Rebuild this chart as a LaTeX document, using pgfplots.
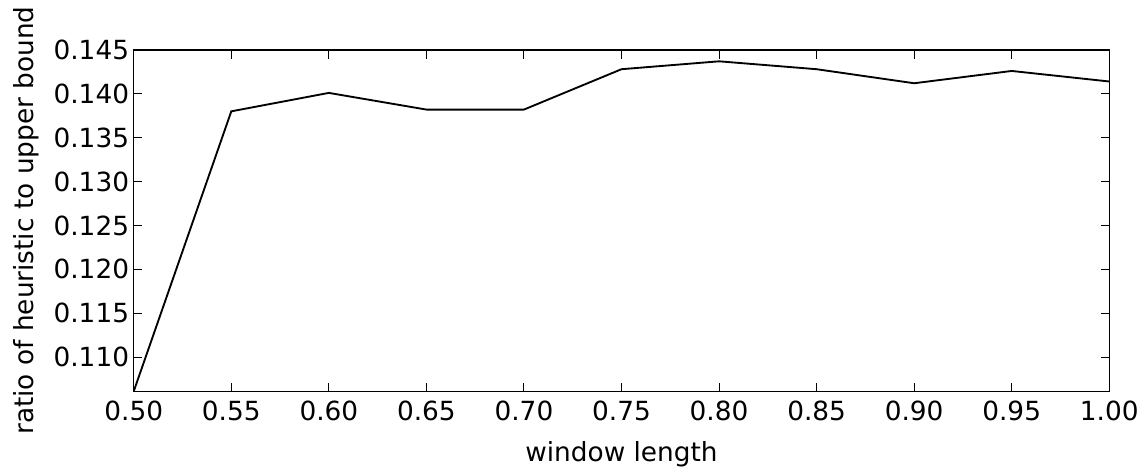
\documentclass[border=0pt]{standalone}
\usepackage{pgfplots}
\pgfplotsset{compat=1.18}
\usepackage{fontspec}
\setmainfont{DejaVu Sans}
\begin{document}
\begin{tikzpicture}
\begin{axis}[
    name=main,
    scale only axis,
    width=733pt, height=256.5pt,
    xmin=0.5, xmax=1.0, ymin=0.1061, ymax=0.145,
    xtick={0.5,0.55,...,1.0},
    ytick={0.110,0.115,0.120,0.125,0.130,0.135,0.140,0.145},
    xticklabel style={yshift=-4pt, /pgf/number format/.cd, fixed, fixed zerofill, precision=2},
    yticklabel style={/pgf/number format/.cd, fixed, fixed zerofill, precision=3},
    /pgf/number format/assume math mode=true,
    tick align=inside, major tick length=6.5pt,
    tick style={black, line width=0.8pt},
    axis line style={line width=1pt},
    xtick pos=both, ytick pos=both,
    font=\fontsize{19.8}{23}\selectfont,
    xlabel={window length},
    ylabel={ratio of heuristic to upper bound},
    xlabel style={yshift=-8pt},
    ylabel style={yshift=4pt},
    scaled y ticks=false,
]
\addplot[black, line width=1.4pt, no markers] coordinates {
(0.50,0.1061)(0.55,0.1380)(0.60,0.1401)(0.65,0.1382)(0.70,0.1382)(0.75,0.1428)
(0.80,0.1437)(0.85,0.1428)(0.90,0.1412)(0.95,0.1426)(1.00,0.1414)};
\end{axis}
\path (main.south west) ++(-100.5pt,-58.5pt) rectangle ++(857.25pt,352.5pt);
\end{tikzpicture}
\end{document}
